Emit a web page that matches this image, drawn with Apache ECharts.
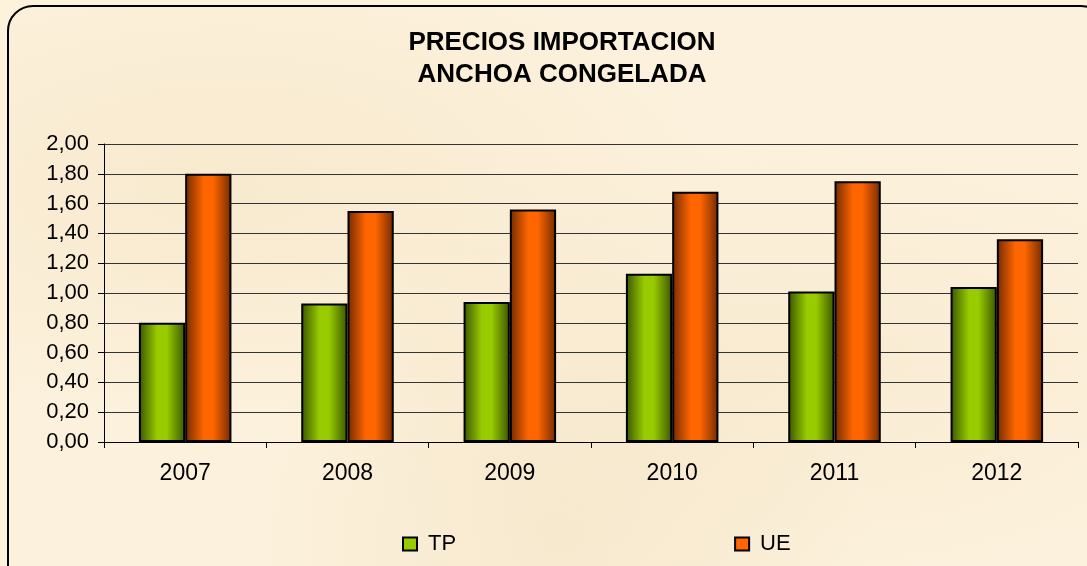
<!DOCTYPE html>
<html>
<head>
<meta charset="utf-8">
<script src="https://cdn.jsdelivr.net/npm/echarts@6/dist/echarts.min.js"></script>
<style>
  html, body { margin: 0; padding: 0; background: #fdf3dd; }
  #frame {
    position: absolute; left: 7px; top: 5px; width: 1100px; height: 600px;
    border: 2px solid #000; border-radius: 26px; box-sizing: border-box;
    background:
      radial-gradient(ellipse at 20% 30%, rgba(240,220,180,0.35), transparent 40%),
      radial-gradient(ellipse at 70% 60%, rgba(240,222,185,0.3), transparent 45%),
      radial-gradient(ellipse at 50% 90%, rgba(235,215,175,0.3), transparent 40%),
      #fcf1dc;
  }
  #chart { position: absolute; left: 0; top: 0; width: 1087px; height: 566px; }
</style>
</head>
<body>
<div id="frame"></div>
<div id="chart"></div>
<script>
// precios importacion anchoa congelada
var years = ['2007', '2008', '2009', '2010', '2011', '2012'];
var tp = [0.80, 0.93, 0.94, 1.13, 1.01, 1.04];
var ue = [1.80, 1.55, 1.56, 1.68, 1.75, 1.36];
var yTicks = [0, 0.2, 0.4, 0.6, 0.8, 1.0, 1.2, 1.4, 1.6, 1.8, 2.0];

var myChart = echarts.init(document.getElementById('chart'));

var barColor = function (dark, light) {
    return new echarts.graphic.LinearGradient(0, 0, 1, 0, [
        { offset: 0, color: dark },
        { offset: 0.4, color: light },
        { offset: 0.6, color: light },
        { offset: 1, color: dark }
    ]);
};

var font = 'Liberation Sans, Arial, sans-serif';

option = {
    backgroundColor: 'transparent',
    title: {
        text: 'PRECIOS IMPORTACION\nANCHOA CONGELADA',
        left: 557,
        top: 22,
        textAlign: 'center',
        textStyle: { fontFamily: font, fontSize: 26, fontWeight: 'bold', color: '#000', lineHeight: 32 }
    },
    legend: {
        left: 397,
        top: 528,
        itemGap: 278,
        itemWidth: 14,
        itemHeight: 13,
        icon: 'rect',
        textStyle: { fontFamily: font, fontSize: 22, color: '#000', padding: [0, 0, 0, 6] },
        data: [
            { name: 'TP', itemStyle: { color: '#99cc00', borderColor: '#000', borderWidth: 2 } },
            { name: 'UE', itemStyle: { color: '#ff6600', borderColor: '#000', borderWidth: 2 } }
        ]
    },
    grid: { left: 104, right: 9, top: 144, bottom: 124 },
    xAxis: {
        type: 'category',
        data: years,
        axisLine: { lineStyle: { color: '#000', width: 1 } },
        axisTick: { show: true, length: 6, lineStyle: { color: '#000' } },
        axisLabel: { fontFamily: font, fontSize: 23, color: '#000', margin: 20 }
    },
    yAxis: {
        type: 'value',
        min: yTicks[0],
        max: yTicks[yTicks.length - 1],
        interval: 0.2,
        axisLine: { show: true, lineStyle: { color: '#000', width: 1 } },
        axisTick: { show: true, length: 6, lineStyle: { color: '#000' } },
        splitLine: { lineStyle: { color: '#333', width: 1 } },
        axisLabel: {
            fontFamily: font, fontSize: 22, color: '#000', margin: 15,
            formatter: function (v) { return v.toFixed(2).replace('.', ','); }
        }
    },
    series: [
        {
            name: 'TP', type: 'bar', data: tp,
            barGap: '0%', barCategoryGap: '43%',
            itemStyle: { color: barColor('#3a5500', '#99cc00'), borderColor: '#000', borderWidth: 2 }
        },
        {
            name: 'UE', type: 'bar', data: ue,
            itemStyle: { color: barColor('#722a00', '#ff6600'), borderColor: '#000', borderWidth: 2 }
        }
    ]
};
myChart.setOption(option);
</script>
</body>
</html>
